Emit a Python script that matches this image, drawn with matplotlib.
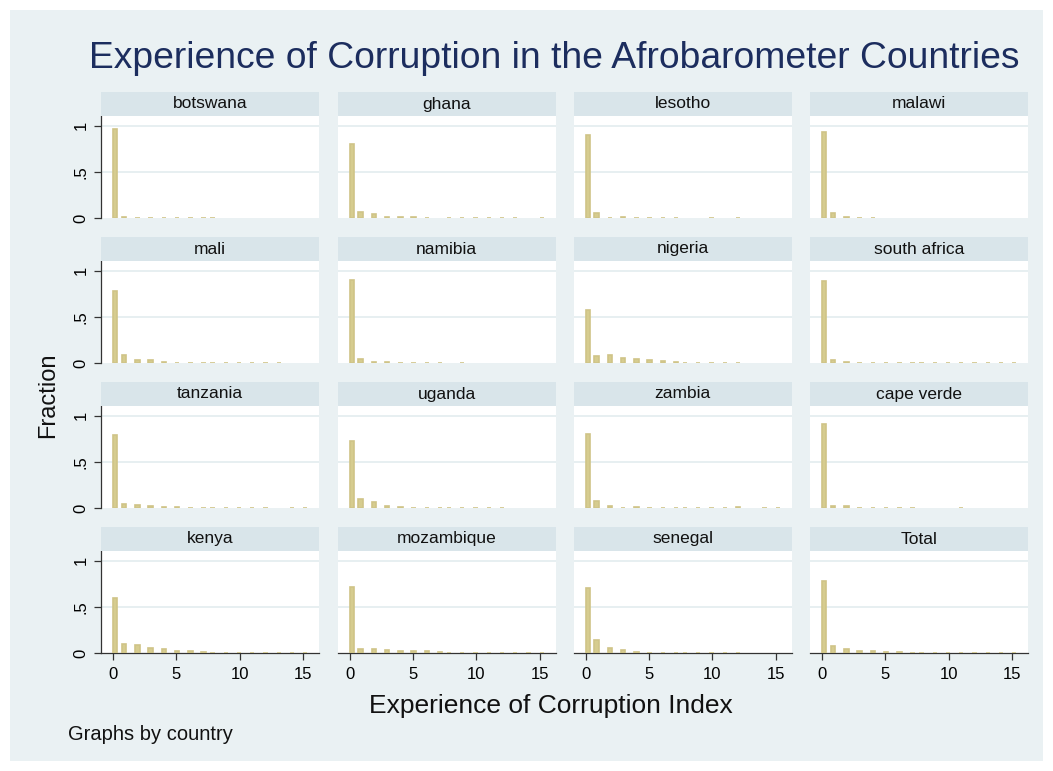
import numpy as np
import matplotlib
matplotlib.use("Agg")
import matplotlib.pyplot as plt
from matplotlib.patches import Rectangle

# ---------------- data ----------------
values = list(range(16))  # Experience of Corruption Index values 0..15

countries = ["botswana", "ghana", "lesotho", "malawi",
             "mali", "namibia", "nigeria", "south africa",
             "tanzania", "uganda", "zambia", "cape verde",
             "kenya", "mozambique", "senegal", "Total"]

botswana = [0.964, 0.015, 0.005, 0.004, 0.003, 0.003, 0.003, 0.003, 0.002, 0, 0, 0, 0, 0, 0, 0]
ghana = [0.800, 0.068, 0.047, 0.018, 0.014, 0.014, 0.006, 0, 0.004, 0.004, 0.004, 0.004, 0.004, 0.004, 0, 0.004]
lesotho = [0.900, 0.058, 0.004, 0.012, 0.004, 0.004, 0.004, 0.004, 0, 0, 0.004, 0, 0.005, 0, 0, 0]
malawi = [0.928, 0.054, 0.012, 0.005, 0.005, 0, 0, 0, 0, 0, 0, 0, 0, 0, 0, 0]
mali = [0.780, 0.090, 0.032, 0.032, 0.014, 0.006, 0.005, 0.005, 0.005, 0.005, 0.005, 0.005, 0.005, 0.004, 0, 0]
namibia = [0.900, 0.043, 0.018, 0.014, 0.005, 0.005, 0.005, 0.005, 0, 0.005, 0, 0, 0, 0, 0, 0]
nigeria = [0.576, 0.079, 0.086, 0.058, 0.043, 0.036, 0.029, 0.016, 0.008, 0.006, 0.005, 0.005, 0.005, 0, 0, 0]
south_africa = [0.892, 0.036, 0.012, 0.005, 0.005, 0.004, 0.004, 0.004, 0.004, 0.004, 0.004, 0.004, 0.004, 0.004, 0.004, 0.004]
tanzania = [0.790, 0.050, 0.036, 0.022, 0.014, 0.014, 0.005, 0.005, 0.005, 0.005, 0.005, 0.005, 0.005, 0, 0.005, 0.005]
uganda = [0.727, 0.100, 0.065, 0.029, 0.016, 0.007, 0.005, 0.005, 0.005, 0.005, 0.005, 0.005, 0.004, 0, 0, 0]
zambia = [0.800, 0.079, 0.029, 0.005, 0.012, 0.005, 0.005, 0.005, 0.005, 0.005, 0.005, 0.005, 0.018, 0, 0.005, 0.005]
cape_verde = [0.914, 0.029, 0.025, 0.005, 0.005, 0.005, 0.005, 0.005, 0, 0, 0, 0.007, 0, 0, 0, 0]
kenya = [0.595, 0.105, 0.085, 0.060, 0.045, 0.025, 0.025, 0.012, 0.008, 0.006, 0.005, 0.005, 0.005, 0.004, 0.004, 0.004]
mozambique = [0.720, 0.050, 0.045, 0.040, 0.030, 0.025, 0.028, 0.012, 0.008, 0.006, 0.005, 0.005, 0.004, 0.004, 0.004, 0.004]
senegal = [0.710, 0.140, 0.060, 0.040, 0.012, 0.008, 0.006, 0.005, 0.004, 0.004, 0.003, 0.003, 0.003, 0, 0, 0]
total = [0.780, 0.075, 0.045, 0.030, 0.020, 0.013, 0.010, 0.007, 0.005, 0.005, 0.004, 0.004, 0.004, 0.003, 0.003, 0.003]

fractions = [botswana, ghana, lesotho, malawi, mali, namibia, nigeria, south_africa,
             tanzania, uganda, zambia, cape_verde, kenya, mozambique, senegal, total]

xticks = [0, 5, 10, 15]
yticks = [0, 0.5, 1]
ytick_labels = ["0", ".5", "1"]

# ---------------- style ----------------
W, H = 1053, 771
fig = plt.figure(figsize=(W / 100, H / 100), dpi=100)
fig.patch.set_facecolor("white")
plt.rcParams["font.family"] = ["Liberation Sans", "DejaVu Sans"]

region_color = "#EAF1F3"
strip_color = "#D9E5EA"
grid_color = "#E3ECEF"
bar_color = "#D6CC8F"
bar_edge = "#CFC487"
title_color = "#1C2D5E"

fig.add_artist(Rectangle((10 / W, 1 - 761 / H), 1033 / W, 751 / H,
                         transform=fig.transFigure, facecolor=region_color,
                         edgecolor="none", zorder=-10))

# histogram bins (Stata-style equal-width bins)
bw = 1 / 2.868
edges = np.arange(0, 45) * bw

col_left = [101, 337.5, 573.5, 810]
plot_w = 218
row_bottom = [218.3, 363.3, 508.3, 653.3]
plot_h = 102.3
strip_h = 24

for i, (name, frac) in enumerate(zip(countries, fractions)):
    r, c = divmod(i, 4)
    ax = fig.add_axes([col_left[c] / W, 1 - row_bottom[r] / H, plot_w / W, plot_h / H])
    ax.set_facecolor("white")
    counts, _, patches = ax.hist(values, bins=edges, weights=frac, color=bar_color,
                                 edgecolor=bar_edge, linewidth=1.2, zorder=3)
    for cnt, p in zip(counts, patches):
        if cnt <= 0:
            p.set_visible(False)
    ax.set_xlim(-0.95, 16.25)
    ax.set_ylim(0, 1.105)
    for yv in (0.5, 1.0):
        ax.axhline(yv, color=grid_color, lw=1.2, zorder=1)
    for s in ax.spines.values():
        s.set_visible(False)
    ax.set_yticks(yticks)
    ax.set_xticks(xticks)
    if c == 0:
        ax.spines["left"].set_visible(True)
        ax.spines["left"].set_color("#333333")
        ax.spines["left"].set_linewidth(0.9)
        ax.set_yticklabels(ytick_labels, rotation=90, va="center", fontsize=12)
        ax.tick_params(axis="y", length=5, width=0.9, color="#333333", pad=4)
    else:
        ax.tick_params(axis="y", length=0, labelleft=False)
    if r == 3:
        ax.spines["bottom"].set_visible(True)
        ax.spines["bottom"].set_color("#333333")
        ax.spines["bottom"].set_linewidth(0.9)
        ax.set_xticklabels([str(t) for t in xticks], fontsize=12)
        ax.tick_params(axis="x", length=5, width=0.9, color="#333333", pad=5)
    else:
        ax.tick_params(axis="x", length=0, labelbottom=False)
    # strip title
    ax.add_patch(Rectangle((0, 1.0), 1, strip_h / plot_h, transform=ax.transAxes,
                           facecolor=strip_color, edgecolor="none", clip_on=False, zorder=5))
    ax.text(0.5, 1 + strip_h / plot_h / 2, name, transform=ax.transAxes,
            ha="center", va="center", fontsize=12.5, color="#111111", zorder=6)

fig.text(554 / W, 1 - 59 / H, "Experience of Corruption in the Afrobarometer Countries",
         ha="center", va="center", fontsize=26.8, color=title_color)
fig.text(551 / W, 1 - 706 / H, "Experience of Corruption Index",
         ha="center", va="center", fontsize=19, color="#111111")
fig.text(48 / W, 1 - 395 / H, "Fraction", rotation=90,
         ha="center", va="center", fontsize=17, color="#111111")
fig.text(68 / W, 1 - 735 / H, "Graphs by country",
         ha="left", va="center", fontsize=14.5, color="#111111")

fig.savefig("out.png", dpi=100, facecolor=fig.get_facecolor())
